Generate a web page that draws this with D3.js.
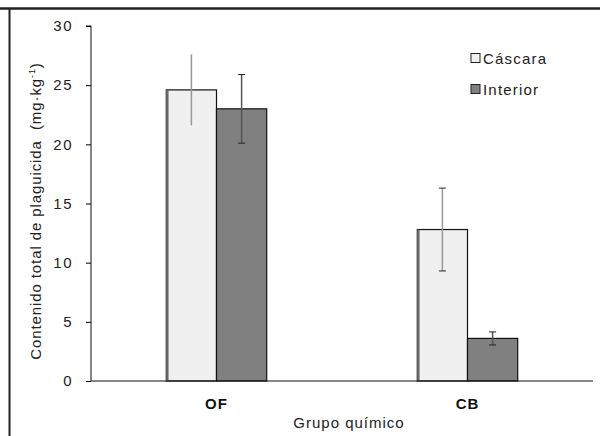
<!DOCTYPE html>
<html>
<head>
<meta charset="utf-8">
<script src="https://cdn.jsdelivr.net/npm/d3@7"></script>
<style>
  body { margin: 0; background: #fff; }
  svg { display: block; font-family: "Liberation Sans", Arial, sans-serif; }
  text { white-space: pre; }
</style>
</head>
<body>
<svg width="600" height="436"></svg>
<script>
const groups = ['OF', 'CB'];
const series = ['Cáscara', 'Interior'];
const cascara = [24.6, 12.8];
const interior = [23.0, 3.6];
const cascaraErr = [3.0, 3.5];
const interiorErr = [2.9, 0.55];
const yTicks = [0, 5, 10, 15, 20, 25, 30];

const svg = d3.select('svg');
const margin = {left: 91, right: 7, top: 26, bottom: 55};
const W = 600, H = 436;

// frame lines (top + left only, like the original export)
svg.append('line').attr('x1', 0).attr('x2', W).attr('y1', 8.5).attr('y2', 8.5)
    .attr('stroke', '#222').attr('stroke-width', 2.5);
svg.append('line').attr('x1', 9.5).attr('x2', 9.5).attr('y1', 8).attr('y2', H)
    .attr('stroke', '#222').attr('stroke-width', 2);

const x = d3.scaleBand().domain(groups).range([margin.left, W - margin.right]).padding(0);
const xs = d3.scaleBand().domain(series).range([0, x.bandwidth()]).paddingOuter(1.5).paddingInner(0);
const y = d3.scaleLinear().domain([0, 30]).range([H - margin.bottom, margin.top]);

const fills = {'Cáscara': '#f0f0f0', 'Interior': '#808080'};
const errColor = {'Cáscara': '#999', 'Interior': '#555'};

const rows = [];
groups.forEach((g, i) => {
    rows.push({g, s: 'Cáscara', v: cascara[i], e: cascaraErr[i]});
    rows.push({g, s: 'Interior', v: interior[i], e: interiorErr[i]});
});

const bars = svg.append('g');
bars.selectAll('rect').data(rows).join('rect')
    .attr('x', d => x(d.g) + xs(d.s))
    .attr('y', d => y(d.v))
    .attr('width', xs.bandwidth())
    .attr('height', d => y(0) - y(d.v))
    .attr('fill', d => fills[d.s])
    .attr('stroke', '#111').attr('stroke-width', 1.2);

// darker left shading on the light bars
bars.selectAll('line.shade').data(rows.filter(d => d.s === 'Cáscara')).join('line')
    .attr('class', 'shade')
    .attr('x1', d => x(d.g) + xs(d.s) + 1).attr('x2', d => x(d.g) + xs(d.s) + 1)
    .attr('y1', d => y(d.v)).attr('y2', y(0))
    .attr('stroke', '#666').attr('stroke-width', 2.5);

// error bars
const eb = svg.append('g').selectAll('g').data(rows).join('g')
    .attr('transform', d => `translate(${x(d.g) + xs(d.s) + xs.bandwidth() / 2},0)`);
eb.append('line')
    .attr('y1', d => y(d.v + d.e)).attr('y2', d => y(d.v - d.e))
    .attr('stroke', d => errColor[d.s]).attr('stroke-width', 1.5);
eb.filter((d, i) => i > 0).selectAll('line.cap')
    .data(d => [d.v + d.e, d.v - d.e]).join('line')
    .attr('class', 'cap')
    .attr('x1', -3.5).attr('x2', 3.5)
    .attr('y1', v => y(v)).attr('y2', v => y(v))
    .attr('stroke', '#222').attr('stroke-width', 1);

// axes
const yAxis = svg.append('g').attr('transform', `translate(${margin.left},0)`)
    .call(d3.axisLeft(y).tickValues(yTicks).tickSize(5).tickPadding(13));
yAxis.select('.domain').attr('stroke', '#111').attr('d', `M-5,${y(30)}H0V${y(0)}`);
yAxis.selectAll('text').attr('font-size', 15).attr('letter-spacing', 1.5).attr('fill', '#222')
    .attr('font-family', '"Liberation Sans", Arial, sans-serif');

svg.append('line').attr('x1', margin.left).attr('x2', W - margin.right)
    .attr('y1', y(0)).attr('y2', y(0)).attr('stroke', '#111');

svg.append('g').selectAll('text').data(groups).join('text')
    .attr('x', d => x(d) + x.bandwidth() / 2).attr('y', 409)
    .attr('text-anchor', 'middle').attr('font-size', 15).attr('font-weight', 'bold')
    .attr('letter-spacing', 1).attr('fill', '#111').text(d => d);

svg.append('text').attr('x', 349).attr('y', 428).attr('text-anchor', 'middle')
    .attr('font-size', 15).attr('letter-spacing', 1).attr('fill', '#222').text('Grupo químico');

const yl = svg.append('text').attr('transform', 'translate(41,211) rotate(-90)')
    .attr('text-anchor', 'middle').attr('font-size', 15).attr('letter-spacing', 0.9)
    .attr('fill', '#222');
yl.append('tspan').text('Contenido total de plaguicida  (mg·kg');
yl.append('tspan').attr('font-size', 9).attr('dy', -6).text('-1');
yl.append('tspan').attr('dy', 6).text(')');

// legend
const lg = svg.append('g').selectAll('g').data(series).join('g')
    .attr('transform', (d, i) => `translate(471,${58 + i * 31})`);
lg.append('rect').attr('x', 0).attr('y', -4.5).attr('width', 9).attr('height', 9)
    .attr('fill', d => fills[d]).attr('stroke', '#222').attr('stroke-width', 1);
lg.append('text').attr('x', 12).attr('y', 5.5).attr('font-size', 15)
    .attr('letter-spacing', 1.2).attr('fill', '#222').text(d => d);
</script>
</body>
</html>
